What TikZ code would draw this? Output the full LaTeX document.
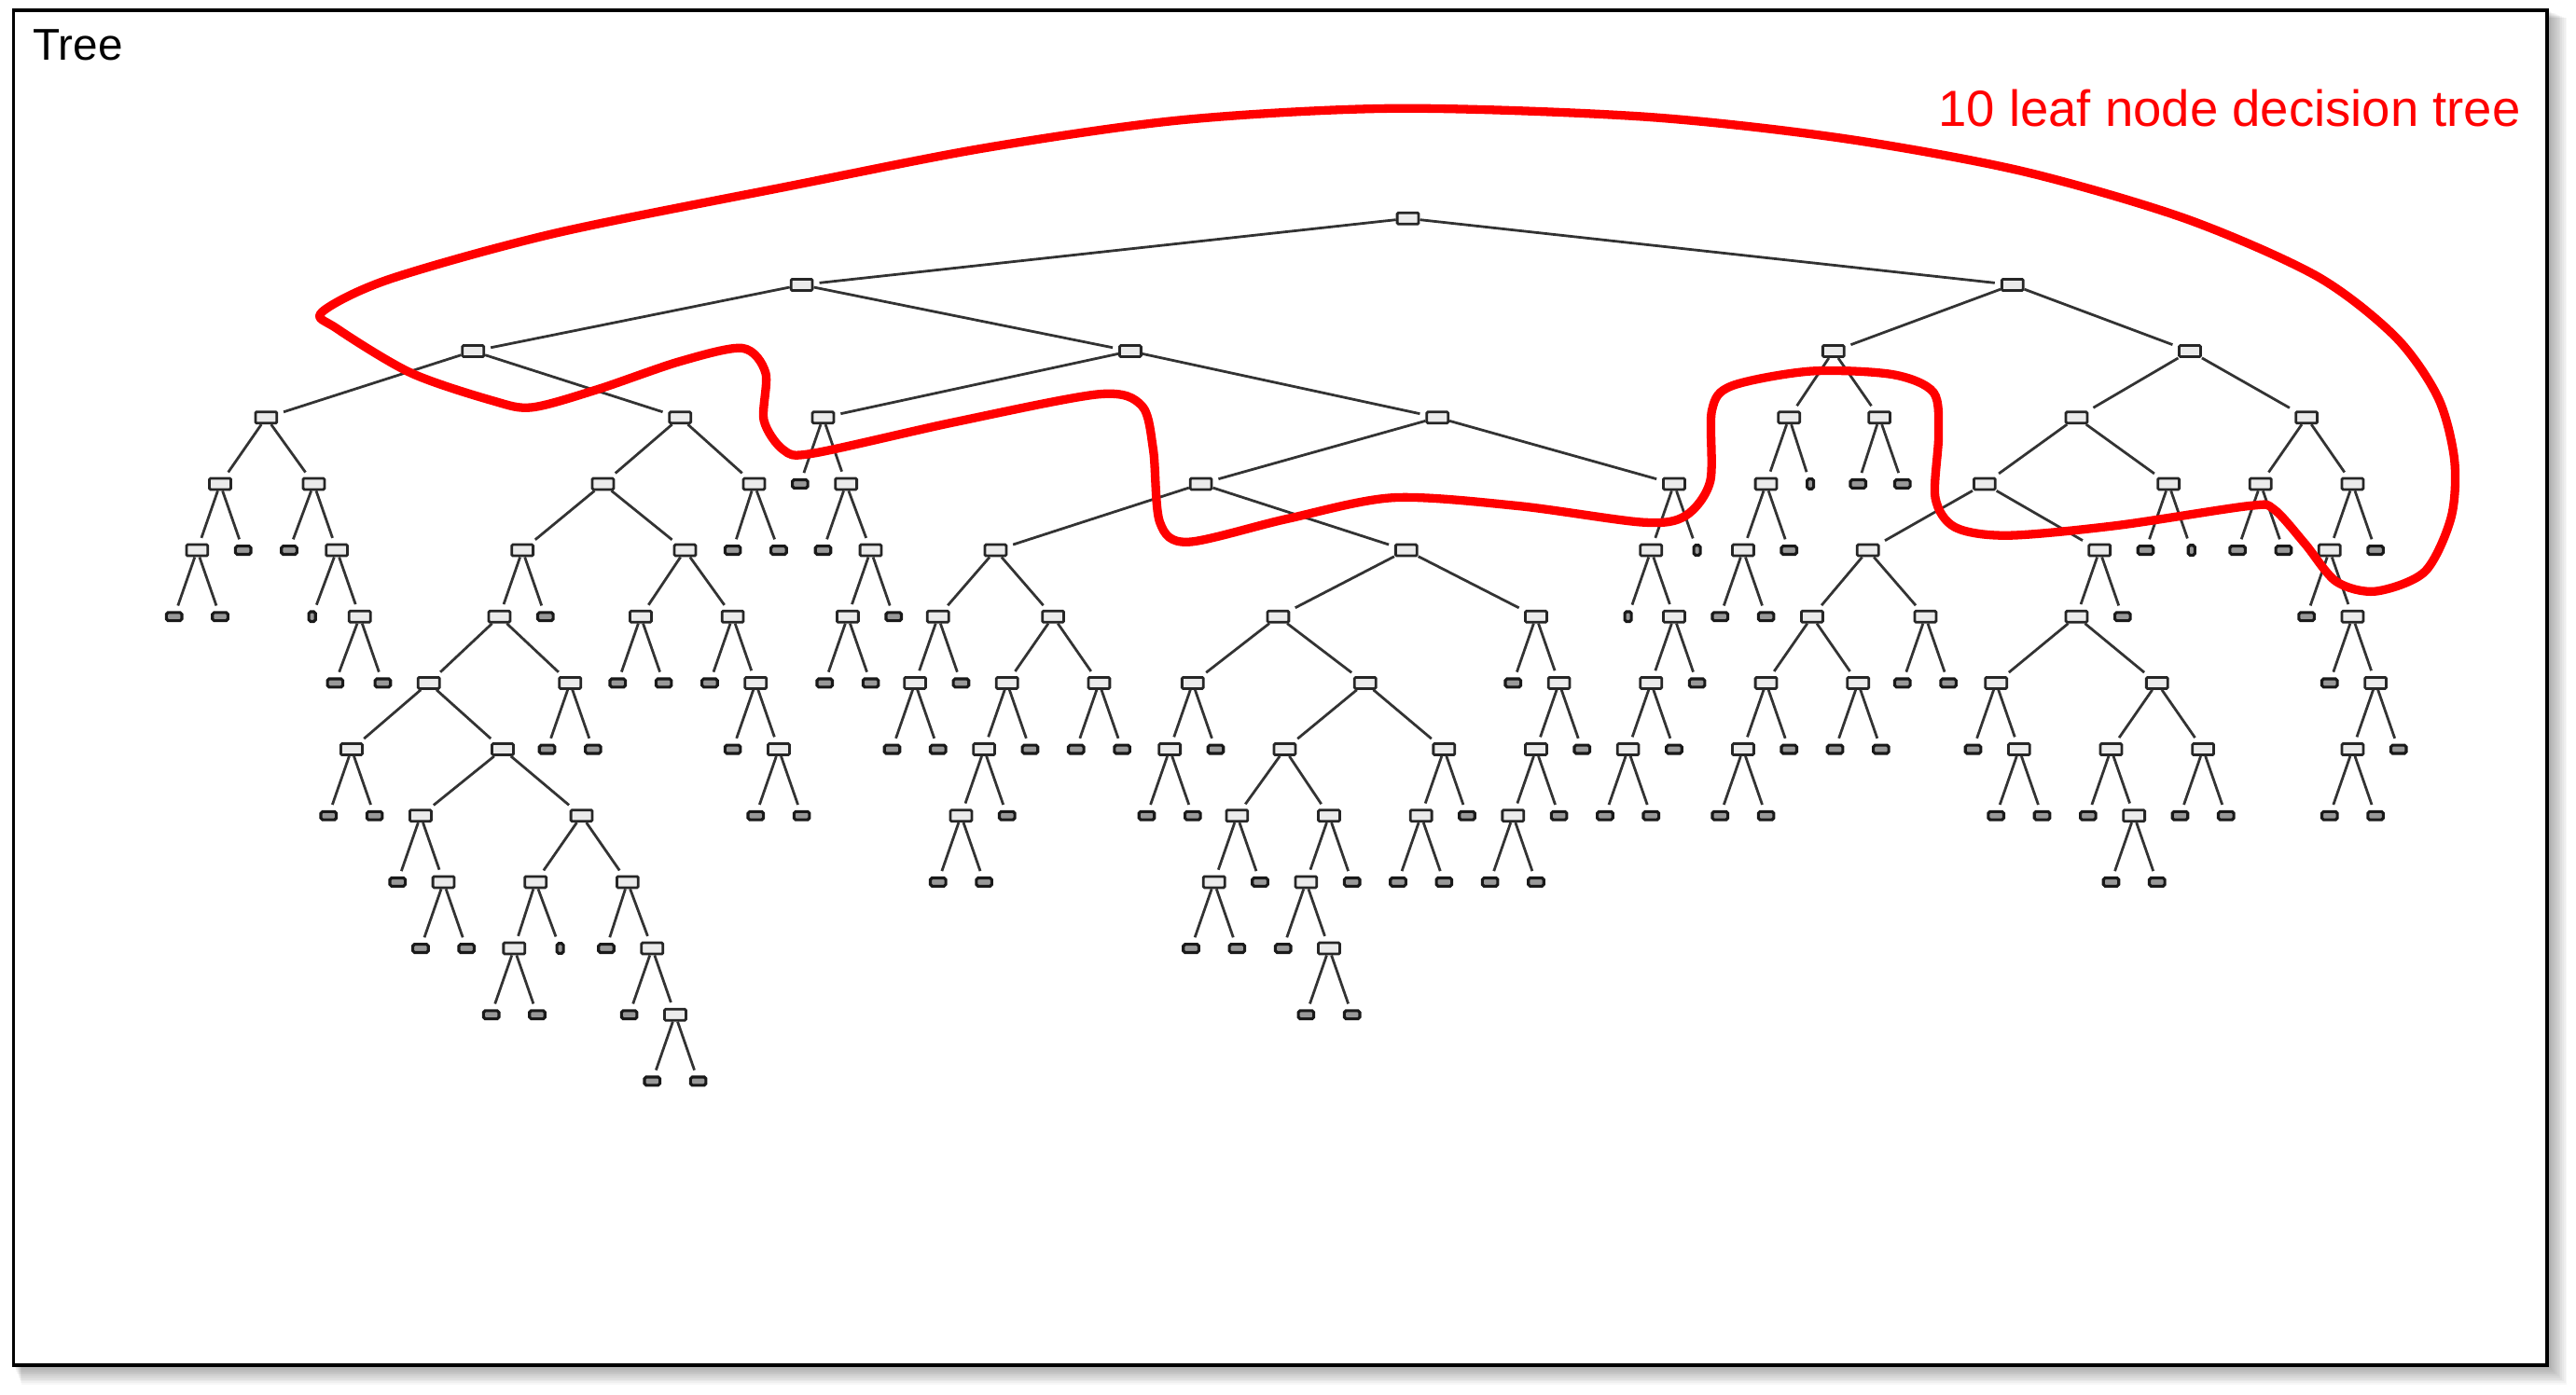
\documentclass[tikz,border=0pt]{standalone}
\usepackage{fontspec}
\setmainfont{Liberation Sans}
\begin{document}
\begin{tikzpicture}[x=0.01cm,y=-0.01cm,
  inode/.style={rectangle, draw=black!85, fill=black!8, line width=0.45pt, minimum width=0.13cm, minimum height=0.068cm, inner sep=0pt, rounded corners=0.2pt},
  lnode/.style={rectangle, draw=black!90, fill=black!40, line width=0.5pt, minimum width=0.094cm, minimum height=0.05cm, inner sep=0pt, rounded corners=0.3pt},
  snode/.style={lnode, minimum width=0.04cm, minimum height=0.06cm},
  link/.style={draw=black!80, line width=0.45pt, shorten >=0.035cm},
  frm/.style={draw=black, line width=0.6pt},
  redloop/.style={draw=red, line width=1.5pt, line join=round}
]
\useasboundingbox (0,0) rectangle (1568,849);
\fill[white] (0,0) rectangle (1568,849);
% shadow of the frame
\foreach \d in {1,...,12}
  \fill[black,opacity=0.03] ({8.3+0.4*\d},{6.2+0.4*\d}) rectangle ({1550.5+\d},{831+\d});
\fill[white] (8.3,6.2) rectangle (1550.5,831);
\draw[frm] (8.3,6.2) rectangle (1550.5,831);

% root
\node[inode] (n0-857) at (857,133) {};
% internal nodes: level/x/parent-x
\foreach \l/\x/\p in {
1/488/857, 1/1225/857,
2/288/488, 2/688/488, 2/1116/1225, 2/1333/1225,
3/162/288, 3/414/288, 3/501/688, 3/875/688, 3/1089/1116, 3/1144/1116, 3/1264/1333, 3/1404/1333,
4/134/162, 4/191/162, 4/367/414, 4/459/414, 4/515/501, 4/731/875, 4/1019/875, 4/1075/1089, 4/1208/1264, 4/1320/1264, 4/1376/1404, 4/1432/1404,
5/120/134, 5/205/191, 5/318/367, 5/417/367, 5/530/515, 5/606/731, 5/856/731, 5/1005/1019, 5/1061/1075, 5/1137/1208, 5/1278/1208, 5/1418/1432,
6/219/205, 6/304/318, 6/390/417, 6/446/417, 6/516/530, 6/571/606, 6/641/606, 6/778/856, 6/935/856, 6/1019/1005, 6/1103/1137, 6/1172/1137, 6/1264/1278, 6/1432/1418,
7/261/304, 7/347/304, 7/460/446, 7/557/571, 7/613/641, 7/669/641, 7/726/778, 7/831/778, 7/949/935, 7/1005/1019, 7/1075/1103, 7/1131/1103, 7/1215/1264, 7/1313/1264, 7/1446/1432,
8/214/261, 8/306/261, 8/474/460, 8/599/613, 8/712/726, 8/782/831, 8/879/831, 8/935/949, 8/991/1005, 8/1061/1075, 8/1229/1215, 8/1285/1313, 8/1341/1313, 8/1432/1446,
9/256/306, 9/354/306, 9/585/599, 9/753/782, 9/809/782, 9/865/879, 9/921/935, 9/1299/1285,
10/270/256, 10/326/354, 10/382/354, 10/739/753, 10/795/809,
11/313/326, 11/397/382, 11/809/795,
12/411/397}{
  \pgfmathtruncatemacro\pl{\l-1}
  \node[inode] (n\l-\x) at (\x,{133+40.4*\l}) {};
  \draw[link] (n\pl-\p) -- (n\l-\x);
}
% leaves
\foreach \l/\x/\p in {
4/487/501, 4/1131/1144, 4/1158/1144,
5/148/134, 5/176/191, 5/446/459, 5/474/459, 5/501/515, 5/1089/1075, 5/1306/1320, 5/1362/1376, 5/1390/1376, 5/1446/1432,
6/106/120, 6/134/120, 6/332/318, 6/544/530, 6/1047/1061, 6/1075/1061, 6/1292/1278, 6/1404/1418,
7/204/219, 7/233/219, 7/376/390, 7/404/390, 7/432/446, 7/502/516, 7/530/516, 7/585/571, 7/921/935, 7/1033/1019, 7/1158/1172, 7/1186/1172, 7/1418/1432,
8/333/347, 8/361/347, 8/446/460, 8/543/557, 8/571/557, 8/627/613, 8/655/669, 8/683/669, 8/740/726, 8/963/949, 8/1019/1005, 8/1089/1075, 8/1117/1131, 8/1145/1131, 8/1201/1215, 8/1460/1446,
9/200/214, 9/228/214, 9/460/474, 9/488/474, 9/613/599, 9/698/712, 9/726/712, 9/893/879, 9/949/935, 9/977/991, 9/1005/991, 9/1047/1061, 9/1075/1061, 9/1215/1229, 9/1243/1229, 9/1271/1285, 9/1327/1341, 9/1355/1341, 9/1418/1432, 9/1446/1432,
10/242/256, 10/571/585, 10/599/585, 10/767/753, 10/823/809, 10/851/865, 10/879/865, 10/907/921, 10/935/921, 10/1285/1299, 10/1313/1299,
11/256/270, 11/284/270, 11/369/382, 11/725/739, 11/753/739, 11/781/795,
12/299/313, 12/327/313, 12/383/397, 12/795/809, 12/823/809,
13/397/411, 13/425/411}{
  \pgfmathtruncatemacro\pl{\l-1}
  \node[lnode] (n\l-\x) at (\x,{133+40.4*\l}) {};
  \draw[link] (n\pl-\p) -- (n\l-\x);
}
% small leaves
\foreach \l/\x/\p in {4/1102/1089, 5/1033/1019, 5/1334/1320, 6/190/205, 6/991/1005, 11/341/326}{
  \pgfmathtruncatemacro\pl{\l-1}
  \node[snode] (n\l-\x) at (\x,{133+40.4*\l}) {};
  \draw[link] (n\pl-\p) -- (n\l-\x);
}

% red outline
\draw[redloop] plot[smooth cycle, tension=0.5] coordinates {
(850,66) (1000,71) (1120,84) (1230,104) (1330,133) (1410,168) (1458,205) (1484,242) (1494,280) (1492,315) (1476,348) (1446,360) (1422,354) (1403,331) (1384,310) (1369,308) (1288,320) (1222,326) (1190,321) (1178,303) (1180,265) (1177,239) (1152,228) (1102,226) (1054,235) (1042,250) (1041,293) (1026,314) (1000,318) (924,308) (848,303) (783,316) (723,330) (706,318) (702,274) (695,247) (669,240) (581,257) (495,276) (477,274) (465,256) (466,227) (452,212) (414,220) (364,237) (324,248) (300,244) (250,227) (205,200) (196,190) (237,170) (338,142) (482,113) (600,90) (720,73)};

\node[anchor=base west, inner sep=0pt, font=\fontsize{7.7}{9}\selectfont] (title) at (19.3,36.9) {Tree};
\node[anchor=base east, inner sep=0pt, text=red, font=\fontsize{8.8}{11}\selectfont] (label) at (1535,77.2) {10 leaf node decision tree};
\end{tikzpicture}
\end{document}
